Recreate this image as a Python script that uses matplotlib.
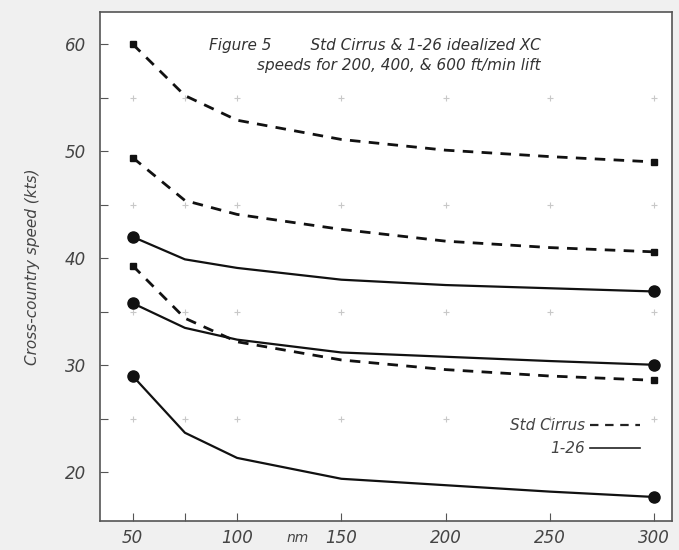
import matplotlib
matplotlib.use('Agg')
import matplotlib.pyplot as plt

plt.rcParams['font.family'] = ['Liberation Sans Narrow', 'DejaVu Sans']
plt.rcParams['font.style'] = 'italic'

# range in nm
nm = [50, 75, 100, 150, 200, 250, 300]
# Std Cirrus XC speeds (kts) for 600, 400, 200 ft/min lift
cirrus_600 = [60.0, 55.2, 52.9, 51.1, 50.1, 49.5, 49.0]
cirrus_400 = [49.4, 45.4, 44.1, 42.7, 41.6, 41.0, 40.6]
cirrus_200 = [39.3, 34.4, 32.2, 30.5, 29.6, 29.0, 28.6]
# 1-26 XC speeds (kts)
k126_600 = [42.0, 39.9, 39.1, 38.0, 37.5, 37.2, 36.9]
k126_400 = [35.8, 33.5, 32.4, 31.2, 30.8, 30.4, 30.05]
k126_200 = [29.0, 23.7, 21.35, 19.4, 18.8, 18.2, 17.7]

xticks = [50, 75, 100, 150, 200, 250, 300]
xlabels = ['50', '', '100', '150', '200', '250', '300']
yticks = [20, 25, 30, 35, 40, 45, 50, 55, 60]
ylabels = ['20', '', '30', '', '40', '', '50', '', '60']
cross_y = [25, 35, 45, 55]

fig = plt.figure(figsize=(6.79, 5.5), dpi=100)
fig.patch.set_facecolor('#f0f0f0')
ax = fig.add_axes([0.147, 0.053, 0.843, 0.925])
ax.set_facecolor('white')

# faint + marks inside the plot
cx = [x for y in cross_y for x in xticks]
cy = [y for y in cross_y for x in xticks]
ax.scatter(cx, cy, marker='+', s=20, color='#c8c8c8', linewidths=0.8, zorder=1)

dash = (0, (3.8, 3))
for s in [cirrus_600, cirrus_400, cirrus_200]:
    ax.plot(nm, s, color='#111111', lw=2, linestyle=dash, marker='s', markersize=5,
            markevery=[0, len(nm) - 1], zorder=3)
for s in [k126_600, k126_400, k126_200]:
    ax.plot(nm, s, color='#111111', lw=1.6, marker='o', markersize=8,
            markevery=[0, len(nm) - 1], zorder=3)

# legend handles
h1, = ax.plot([], [], color='#222222', lw=1.6, linestyle=dash)
h2, = ax.plot([], [], color='#222222', lw=1.2)
leg = ax.legend([h1, h2], ['Std Cirrus', '1-26'], markerfirst=False, frameon=False,
                loc='upper right', bbox_to_anchor=(0.968, 0.229), handlelength=3.3,
                handletextpad=0.3, labelspacing=0.55, fontsize=11)
for t in leg.get_texts():
    t.set_color('#444444')

ax.set_xlim(34.2, 308.6)
ax.set_ylim(15.47, 63.0)
ax.set_xticks(xticks)
ax.set_xticklabels(xlabels)
ax.set_yticks(yticks)
ax.set_yticklabels(ylabels)
ax.tick_params(direction='in', length=6, width=0.8, colors='#555555',
               labelsize=12, labelcolor='#444444')
ax.tick_params(axis='x', pad=6)
ax.tick_params(axis='y', pad=10)
for sp in ax.spines.values():
    sp.set_color('#555555')
    sp.set_linewidth(1.2)

ax.text(129, -0.02, 'nm', transform=ax.get_xaxis_transform(), ha='center', va='top',
        fontsize=10, color='#444444')

ax.set_ylabel('Cross-country speed (kts)', fontsize=11, color='#444444', labelpad=18)

ax.text(0.77, 0.935, 'Figure 5        Std Cirrus & 1-26 idealized XC',
        transform=ax.transAxes, ha='right', va='center', fontsize=11, color='#333333')
ax.text(0.77, 0.895, 'speeds for 200, 400, & 600 ft/min lift',
        transform=ax.transAxes, ha='right', va='center', fontsize=11, color='#333333')

fig.savefig('out.png', dpi=100, facecolor=fig.get_facecolor())
